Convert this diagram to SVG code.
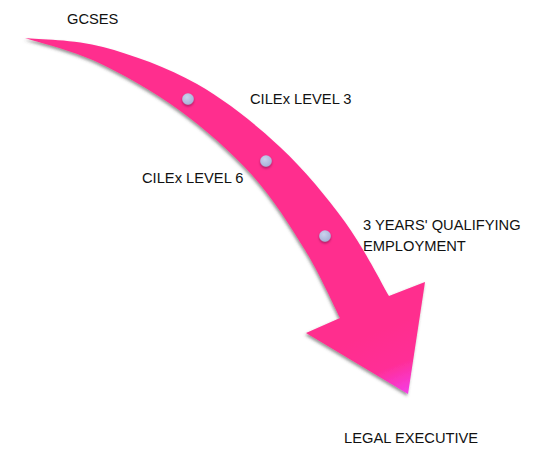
<svg xmlns="http://www.w3.org/2000/svg" width="538" height="455" viewBox="0 0 538 455">
<style>
.lbl{font-family:"Liberation Sans",Arial,sans-serif;font-size:14.7px;fill:#111}
.dot{fill:url(#dotg);filter:url(#dsh)}
</style>
<defs>
<linearGradient id="pinkg" gradientUnits="userSpaceOnUse" x1="380" y1="330" x2="405" y2="394">
<stop offset="0" stop-color="#FF2E8E"/>
<stop offset="0.55" stop-color="#FF2E96"/>
<stop offset="1" stop-color="#F53CE6"/>
</linearGradient>
<radialGradient id="dotg" cx="0.4" cy="0.35" r="0.7">
<stop offset="0" stop-color="#CBD3EE"/>
<stop offset="1" stop-color="#A4AFD6"/>
</radialGradient>
<filter id="sh" x="-10%" y="-10%" width="120%" height="120%">
<feDropShadow dx="-1" dy="2" stdDeviation="1.6" flood-color="#404040" flood-opacity="0.55"/>
</filter>
<filter id="dsh" x="-50%" y="-50%" width="200%" height="200%">
<feDropShadow dx="0" dy="1.5" stdDeviation="1.2" flood-color="#6a1040" flood-opacity="0.6"/>
</filter>
</defs>
<g id="arrow">
<path filter="url(#sh)" fill="url(#pinkg)" d="M25,38 C38,39.5 74.3,39.3 103,47 C131.7,54.7 167.5,67.3 197,84 C226.5,100.7 255.3,124 280,147 C304.7,170 326.8,197.2 345,222 C363.2,246.8 381.7,283.7 389,296 L425,282 L408,394 L306,333 L340,318 C334.2,306.7 319.7,273.8 305,250 C290.3,226.2 273,198.3 252,175 C231,151.7 204.8,128.8 179,110 C153.2,91.2 122.7,74 97,62 C71.3,50 37,42 25,38 Z"/>
</g>
<g id="node-gcses"><text class="lbl" x="67" y="24">GCSES</text></g>
<g id="node-level3"><circle class="dot" cx="188" cy="99" r="5.8"/><text class="lbl" x="250" y="104">CILEx LEVEL 3</text></g>
<g id="node-level6"><circle class="dot" cx="266" cy="161" r="5.8"/><text class="lbl" x="142" y="183">CILEx LEVEL 6</text></g>
<g id="node-employment"><circle class="dot" cx="325" cy="236" r="5.8"/><text class="lbl" x="363" y="230">3 YEARS' QUALIFYING</text><text class="lbl" x="363" y="251">EMPLOYMENT</text></g>
<g id="node-legal"><text class="lbl" x="344" y="443">LEGAL EXECUTIVE</text></g>
<g id="connectors"></g>
</svg>
